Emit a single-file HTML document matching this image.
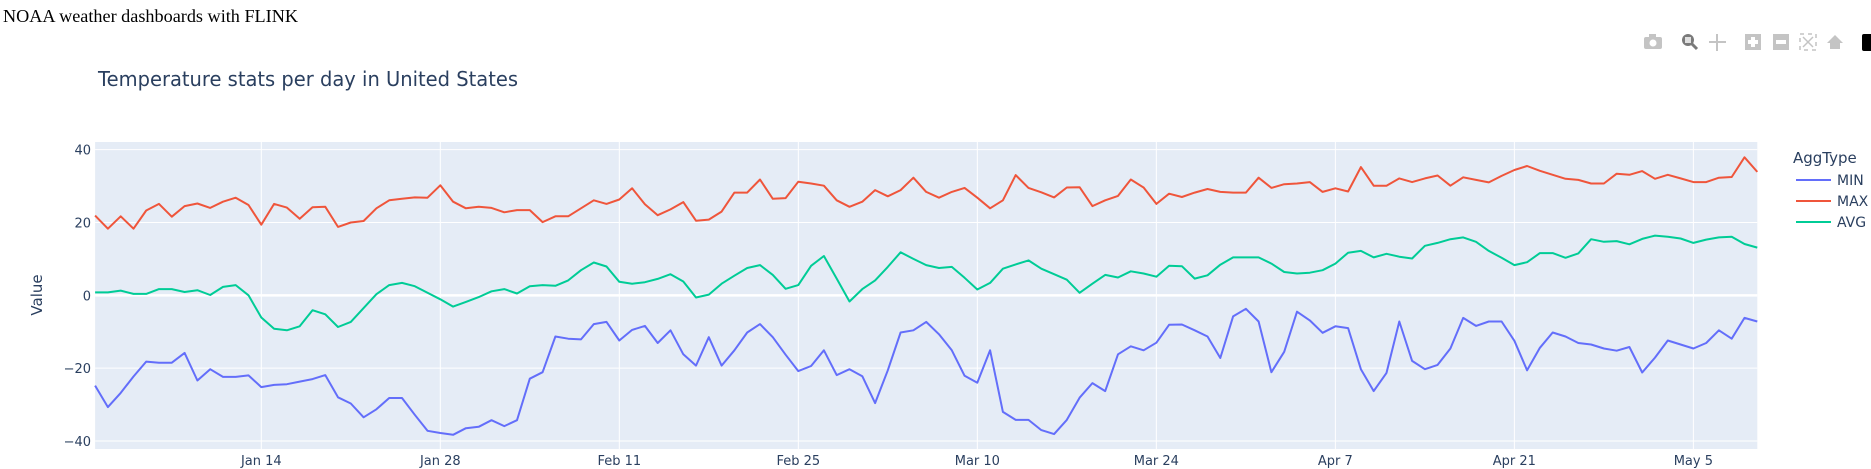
<!DOCTYPE html>
<html><head><meta charset="utf-8">
<style>
html,body{margin:0;padding:0;background:#fff;width:1871px;height:469px;overflow:hidden}
svg{display:block;position:absolute;left:0;top:0}
</style></head>
<body>
<svg id="chart" width="1871" height="469" xmlns="http://www.w3.org/2000/svg">
<text x="3" y="22" font-family="Liberation Serif, serif" font-size="18" fill="#000" textLength="295" lengthAdjust="spacingAndGlyphs">NOAA weather dashboards with FLINK</text>
<text x="98" y="86" font-family="DejaVu Sans, sans-serif" font-size="20" fill="#2a3f5f" textLength="420" lengthAdjust="spacingAndGlyphs">Temperature stats per day in United States</text>
<g fill="#c4c4c4">
 <g><rect x="1644" y="37" width="18" height="12" rx="2"/><rect x="1649" y="34" width="7" height="4"/><circle cx="1653" cy="43" r="3.5" fill="#fff"/></g>
 <g><circle cx="1688" cy="40" r="6" fill="#7a7a7a"/><rect x="1685" y="37" width="6" height="6" fill="#e0e0e0"/><line x1="1692" y1="44" x2="1697" y2="49" stroke="#7a7a7a" stroke-width="3"/></g>
 <g stroke="#c4c4c4" stroke-width="2"><line x1="1709" y1="42" x2="1726" y2="42"/><line x1="1717" y1="34" x2="1717" y2="51"/></g>
 <g><rect x="1745" y="34" width="16" height="16"/><rect x="1751" y="37" width="4" height="10" fill="#fff"/><rect x="1748" y="40" width="10" height="4" fill="#fff"/></g>
 <g><rect x="1773" y="34" width="16" height="16"/><rect x="1776" y="40" width="10" height="4" fill="#fff"/></g>
 <g fill="none" stroke="#c4c4c4" stroke-width="1.5"><rect x="1800" y="34" width="16" height="16" stroke-dasharray="4 4"/><line x1="1803" y1="37" x2="1813" y2="47"/><line x1="1813" y1="37" x2="1803" y2="47"/></g>
 <g><polygon points="1827,43 1835,35 1843,43 1840,43 1840,49 1830,49 1830,43"/></g>
 <g><rect x="1862" y="34" width="12" height="17" rx="2" fill="#000"/></g>
</g>
<g id="plot"></g>
<text transform="translate(42,295) rotate(-90)" text-anchor="middle" font-family="DejaVu Sans, sans-serif" font-size="15" fill="#2a3f5f">Value</text>
<g font-family="DejaVu Sans, sans-serif" fill="#2a3f5f">
 <text x="1793" y="163" font-size="15">AggType</text>
 <g><line x1="1796" y1="180" x2="1831" y2="180" stroke="#636efa" stroke-width="2"/><text x="1837" y="185" font-size="14">MIN</text></g>
 <g><line x1="1796" y1="201" x2="1831" y2="201" stroke="#ef553b" stroke-width="2"/><text x="1837" y="206" font-size="14">MAX</text></g>
 <g><line x1="1796" y1="222" x2="1831" y2="222" stroke="#00cc96" stroke-width="2"/><text x="1837" y="227" font-size="14">AVG</text></g>
</g>
</svg>
<script>
const maxVals=[21.9,18.3,21.7,18.3,23.3,25.1,21.6,24.5,25.2,24.0,25.7,26.8,24.8,19.4,25.1,24.1,21.0,24.2,24.3,18.8,20.0,20.4,23.9,26.1,26.5,26.9,26.8,30.2,25.7,23.9,24.3,24.0,22.8,23.4,
23.4,20.1,21.7,21.7,23.9,26.1,25.1,26.3,29.4,25.0,22.0,23.6,25.6,20.5,20.8,23.0,28.2,28.2,31.8,26.5,26.7,31.2,30.7,30.1,26.1,24.3,25.7,28.9,27.2,28.9,32.3,28.4,
26.8,28.4,29.5,26.8,23.9,26.1,33.0,29.5,28.3,26.9,29.6,29.7,24.5,26.1,27.3,31.8,29.6,25.1,27.9,27.0,28.2,29.2,28.4,28.2,28.2,32.3,29.5,30.5,30.7,31.1,28.4,29.4,
28.5,35.2,30.1,30.1,32.1,31.1,32.1,32.9,30.1,32.4,31.7,31.0,32.8,34.4,35.5,34.2,33.1,32.0,31.7,30.7,30.7,33.4,33.1,34.1,32.0,33.1,32.1,31.1,31.1,32.3,32.5,37.9,33.9];
const avgVals=[0.8,0.8,1.3,0.4,0.4,1.7,1.7,0.9,1.4,0.1,2.3,2.8,0,-6.1,-9.2,-9.6,-8.5,-4.1,-5.2,-8.7,-7.3,-3.5,0.3,2.8,3.4,2.5,0.7,-1.1,-3.1,-1.8,-0.5,1.1,1.7,0.5,
2.5,2.8,2.6,4.1,6.9,9.0,7.9,3.7,3.2,3.6,4.5,5.8,3.8,-0.6,0.2,3.2,5.4,7.5,8.3,5.6,1.8,2.8,8.1,10.8,4.6,-1.7,1.7,4.1,7.8,11.8,10.0,8.3,
7.5,7.8,4.8,1.6,3.4,7.3,8.5,9.6,7.3,5.8,4.3,0.7,3.2,5.6,4.9,6.6,6.0,5.1,8.1,8.0,4.6,5.5,8.4,10.4,10.4,10.4,8.7,6.4,6.0,6.2,6.9,8.7,
11.7,12.2,10.4,11.4,10.6,10.1,13.6,14.4,15.4,15.9,14.7,12.2,10.3,8.3,9.1,11.6,11.6,10.3,11.5,15.4,14.7,14.9,14.0,15.5,16.4,16.1,15.6,14.4,15.3,15.9,16.1,14.1,13.1];
const minVals=[-24.8,-30.7,-26.8,-22.3,-18.2,-18.5,-18.5,-15.8,-23.4,-20.3,-22.4,-22.4,-22.0,-25.2,-24.6,-24.4,-23.7,-23.0,-21.9,-28.0,-29.7,-33.5,-31.3,-28.2,-28.2,-32.8,-37.2,-37.8,-38.3,-36.5,-36.1,-34.3,-35.9,-34.3,
-22.9,-21.1,-11.3,-11.9,-12.1,-7.9,-7.3,-12.4,-9.5,-8.4,-13.1,-9.6,-16.2,-19.3,-11.5,-19.3,-15.1,-10.2,-7.9,-11.5,-16.3,-20.8,-19.4,-15.1,-21.9,-20.3,-22.2,-29.6,-20.6,-10.2,-9.6,-7.3,
-10.7,-15.1,-22.1,-24.0,-15.1,-32.0,-34.2,-34.2,-37.0,-38.1,-34.2,-28.1,-24.1,-26.3,-16.2,-14.0,-15.1,-13.0,-8.1,-8.0,-9.6,-11.3,-17.2,-5.8,-3.7,-7.2,-21.1,-15.5,-4.5,-6.9,-10.3,-8.5,
-9.0,-20.3,-26.3,-21.3,-7.2,-18.0,-20.3,-19.1,-14.6,-6.2,-8.4,-7.2,-7.2,-12.5,-20.6,-14.4,-10.2,-11.3,-13.1,-13.5,-14.6,-15.2,-14.2,-21.2,-17.1,-12.4,-13.5,-14.6,-13.1,-9.6,-11.9,-6.2,-7.2];
const yTicks=[-40,-20,0,20,40];
const yTickLabels=["\u221240","\u221220","0","20","40"];
const xTickDays=[13,27,41,55,69,83,97,111,125];
const xTickLabels=["Jan 14","Jan 28","Feb 11","Feb 25","Mar 10","Mar 24","Apr 7","Apr 21","May 5"];

const NS="http://www.w3.org/2000/svg";
const L=95.1,R=1757.3,T=142,B=449,xMin=0,xMax=130,yMin=-42.2,yMax=42.1;
const xs=d=>L+(d-xMin)/(xMax-xMin)*(R-L);
const ys=v=>B-(v-yMin)/(yMax-yMin)*(B-T);
const g=document.getElementById('plot');
function mk(tag,attrs){const e=document.createElementNS(NS,tag);for(const k in attrs)e.setAttribute(k,attrs[k]);return e;}
const bg=mk('rect',{x:L,y:T,width:R-L,height:B-T,fill:'#e5ecf6'});


g.appendChild(bg);
xTickDays.forEach((d,i)=>{
 const l=mk('line',{x1:xs(d),x2:xs(d),y1:T,y2:B,stroke:'#fff','stroke-width':1});
 
 
 g.appendChild(l);
 const t=mk('text',{x:xs(d),y:465,'text-anchor':'middle','font-family':'DejaVu Sans, sans-serif','font-size':13,fill:'#2a3f5f'});
 t.textContent=xTickLabels[i];
 
 
 g.appendChild(t);
});
yTicks.forEach((v,i)=>{
 const l=mk('line',{x1:L,x2:R,y1:ys(v),y2:ys(v),stroke:'#fff','stroke-width':v===0?2.5:1});
 
 
 g.appendChild(l);
 const t=mk('text',{x:91,y:ys(v)+5,'text-anchor':'end','font-family':'DejaVu Sans, sans-serif','font-size':13,fill:'#2a3f5f'});
 t.textContent=yTickLabels[i];
 
 
 g.appendChild(t);
});
[[minVals,'#636efa','line-min'],[maxVals,'#ef553b','line-max'],[avgVals,'#00cc96','line-avg']].forEach(([arr,c,n])=>{
 const p=mk('polyline',{points:arr.map((v,i)=>xs(i).toFixed(1)+','+ys(v).toFixed(1)).join(' '),fill:'none',stroke:c,'stroke-width':2,'stroke-linejoin':'round'});
 
 
 g.appendChild(p);
});
</script>
</body></html>
